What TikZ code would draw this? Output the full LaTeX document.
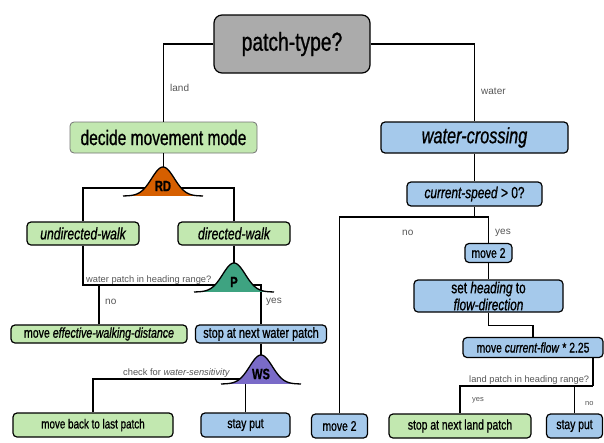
\documentclass[tikz,border=0pt]{standalone}
\usepackage{fontspec}
\setmainfont{Liberation Sans}
\newfontfamily\oswald[FakeStretch=0.74,FakeBold=0.8]{Liberation Sans}
\usetikzlibrary{calc}

\definecolor{patchgray}{HTML}{ABABAB}
\definecolor{landgreen}{HTML}{C2E8B0}
\definecolor{waterblue}{HTML}{A5C9EB}
\definecolor{rdorange}{HTML}{D65F00}
\definecolor{pteal}{HTML}{3EA381}
\definecolor{wspurple}{HTML}{7A6BC8}
\definecolor{labelgray}{HTML}{555555}

\tikzset{
  box/.style={draw=black, line width=1.2pt, rounded corners=4pt, inner sep=0pt,
    align=center, font=\oswald\fontsize{14}{15}\selectfont},
  landbox/.style={box, fill=landgreen},
  waterbox/.style={box, fill=waterblue},
  lbl/.style={text=labelgray, inner sep=0pt, anchor=west, font=\fontsize{10}{11}\selectfont},
  small lbl/.style={lbl, font=\fontsize{9.3}{10}\selectfont},
  link/.style={line width=1.3pt},
}

% bell curve: name, x, base y, colour, label
\newcommand\bellcurve[5]{%
  \fill[#4] plot[domain=-40:40, samples=60, smooth] ({#2+\x},{#3-29*exp(-((\x/16)^2))}) -- cycle;
  \draw[link] plot[domain=-40:40, samples=60, smooth] ({#2+\x},{#3-29*exp(-((\x/16)^2))});
  \node[font=\oswald\bfseries\fontsize{15}{16}\selectfont, inner sep=0pt] (#1) at (#2,#3-10) {#5};
  \coordinate (#1top) at (#2,#3-29);
  \coordinate (#1base) at (#2,#3);
}

\begin{document}
\begin{tikzpicture}[x=1pt,y=-1pt]
		%%%%% START %%%%%
		\useasboundingbox (0,0) rectangle (604,442);

		% boxes
		\node[box, fill=patchgray, rounded corners=8pt, minimum width=156, minimum height=58,
		  font=\oswald\fontsize{26}{28}\selectfont] (ptype) at (292,44) {patch-type?};

		\node[landbox, draw=black!55, line width=0.8pt, minimum width=187, minimum height=31,
		  font=\oswald\fontsize{21}{23}\selectfont] (decide) at (163.5,137.5) {decide movement mode};
		\node[waterbox, minimum width=187, minimum height=31,
		  font=\oswald\itshape\fontsize{22}{24}\selectfont] (wcross) at (474.5,137.5) {water-crossing};

		\node[landbox, minimum width=112, minimum height=23,
		  font=\oswald\itshape\fontsize{16.5}{18}\selectfont] (undir) at (83,233.5) {undirected-walk};
		\node[landbox, minimum width=112, minimum height=23,
		  font=\oswald\itshape\fontsize{16.5}{18}\selectfont] (dir) at (234,233.5) {directed-walk};

		\node[landbox, minimum width=176, minimum height=18,
		  font=\oswald\fontsize{14.3}{15}\selectfont] (mewd) at (99,334) {move \textit{effective-walking-distance}};
		\node[waterbox, minimum width=131, minimum height=18,
		  font=\oswald\fontsize{14.7}{15}\selectfont] (stopw) at (261,334) {stop at next water patch};

		\node[landbox, minimum width=160, minimum height=24,
		  font=\oswald\fontsize{13.3}{15}\selectfont] (mblp) at (93,425) {move back to last patch};
		\node[waterbox, minimum width=89, minimum height=24] (stayl) at (245.5,425) {stay put};

		\node[waterbox, minimum width=135, minimum height=24,
		  font=\oswald\fontsize{16}{17}\selectfont] (cspeed) at (474.5,194) {\textit{current-speed} > 0?};
		\node[waterbox, minimum width=47, minimum height=19] (move2a) at (488.5,253) {move 2};
		\node[waterbox, minimum width=149, minimum height=32,
		  font=\oswald\fontsize{16}{17}\selectfont] (heading) at (488.5,296) {set \textit{heading} to\\\textit{flow-direction}};
		\node[waterbox, minimum width=140, minimum height=20] (mcf) at (533,347.5) {move \textit{current-flow} * 2.25};

		\node[waterbox, minimum width=56, minimum height=24] (move2b) at (339.5,426) {move 2};
		\node[landbox, minimum width=142, minimum height=24] (stopl) at (460,426) {stop at next land patch};
		\node[waterbox, minimum width=56, minimum height=24] (stayr) at (574.5,426) {stay put};

		% join points
		\coordinate (rdjoin) at (163,188);
		\coordinate (pjoin) at (234,285);
		\coordinate (wsjoin) at (261,379);
		\coordinate (csjoin) at (474.5,217);
		\coordinate (ljoin) at (593,386);

		% connectors
		\draw[link] (ptype.west) -| (decide.north);
		\draw[link] (ptype.east) -| (wcross.north);
		\draw[link] (decide.south) -- ++(0,14);
		\draw[link] (undir.north) |- (rdjoin) -| (dir.north);
		\draw[link] (dir.south) -- ++(0,20);
		\draw[link] (undir.south) |- (pjoin) -| (stopw.north);
		\draw[link] (mewd.north) -- (mewd.north |- pjoin);
		\draw[link] (stopw.south) -- ++(0,11);
		\draw[link] (mblp.north) |- (wsjoin);
		\draw[link] (wcross.south) -- (cspeed.north);
		\draw[link] (cspeed.south) -- (csjoin);
		\draw[link] (move2b.north) |- (csjoin) -| (move2a.north);
		\draw[link] (move2a.south) -- (heading.north);
		\draw[link] (heading.south) -- ++(0,13) -| (mcf.north);
		\draw[link] (mcf.south -| ljoin) -- (ljoin);
		\draw[link] (stopl.north) |- (ljoin);
		\draw[link] (stayr.north) -- (stayr.north |- ljoin);

		% bells
		\bellcurve{rd}{163}{196}{rdorange}{RD}
		\bellcurve{p}{234}{292}{pteal}{P}
		\bellcurve{ws}{261}{384}{wspurple}{WS}
		\draw[link] (stayl.north) -- (stayl.north |- wsbase);

		% labels
		\node[lbl] (lland) at (170,88) {land};
		\node[lbl] (lwater) at (481,91) {water};
		\node[small lbl] (lpq) at (86,280) {water patch in heading range?};
		\node[lbl] (lpno) at (105,302) {no};
		\node[lbl] (lpyes) at (266,302) {yes};
		\node[small lbl] (lws) at (123,373) {check for \textit{water-sensitivity}};
		\node[lbl] (lcsno) at (402,233) {no};
		\node[lbl] (lcsyes) at (495,233) {yes};
		\node[small lbl] (llq) at (469,380) {land patch in heading range?};
		\node[lbl, font=\fontsize{7.5}{8}\selectfont] (llyes) at (472,400) {yes};
		\node[lbl, font=\fontsize{7.5}{8}\selectfont] (llno) at (585,404) {no};

		%%%%% END %%%%%
\end{tikzpicture}
\end{document}
